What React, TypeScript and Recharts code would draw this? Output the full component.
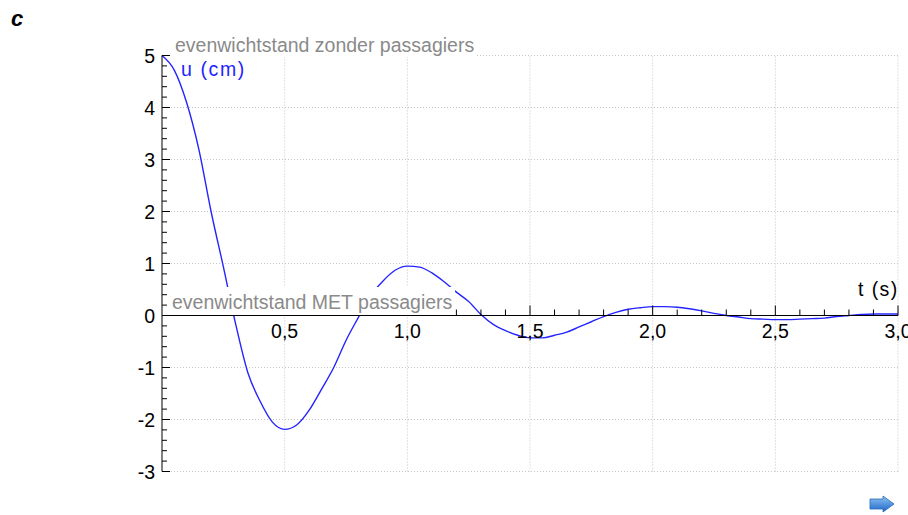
import { LineChart, Line, XAxis, YAxis, ReferenceLine } from "recharts";

// time (s) and displacement u (cm)
const T = [
  0, 0.05, 0.1, 0.15, 0.2, 0.25, 0.3, 0.35, 0.4, 0.45, 0.5, 0.55, 0.6, 0.65,
  0.7, 0.75, 0.8, 0.85, 0.9, 0.95, 1.0, 1.05, 1.1, 1.15, 1.2, 1.25, 1.3, 1.35,
  1.4, 1.45, 1.5, 1.55, 1.6, 1.65, 1.7, 1.75, 1.8, 1.85, 1.9, 1.95, 2.0, 2.05,
  2.1, 2.15, 2.2, 2.25, 2.3, 2.35, 2.4, 2.45, 2.5, 2.55, 2.6, 2.65, 2.7, 2.75,
  2.8, 2.85, 2.9, 2.95, 3.0,
];
const U = [
  5, 4.72, 4.1, 3.2, 2.0, 0.94, -0.16, -1.1, -1.65, -2.05, -2.19, -2.1, -1.82,
  -1.42, -1.0, -0.48, -0.04, 0.38, 0.66, 0.87, 0.95, 0.93, 0.82, 0.65, 0.45,
  0.27, 0.02, -0.17, -0.29, -0.38, -0.43, -0.43, -0.38, -0.32, -0.22, -0.12,
  -0.02, 0.06, 0.12, 0.15, 0.17, 0.17, 0.16, 0.13, 0.09, 0.04, 0.0, -0.03,
  -0.06, -0.07, -0.08, -0.08, -0.07, -0.06, -0.05, -0.02, 0.0, 0.02, 0.03,
  0.03, 0.03,
];

const X_TICKS = [
  0.1, 0.2, 0.3, 0.4, 0.5, 0.6, 0.7, 0.8, 0.9, 1.0, 1.1, 1.2, 1.3, 1.4, 1.5,
  1.6, 1.7, 1.8, 1.9, 2.0, 2.1, 2.2, 2.3, 2.4, 2.5, 2.6, 2.7, 2.8, 2.9, 3.0,
];
const Y_TICKS = [
  -3, -2.8, -2.6, -2.4, -2.2, -2, -1.8, -1.6, -1.4, -1.2, -1, -0.8, -0.6, -0.4,
  -0.2, 0, 0.2, 0.4, 0.6, 0.8, 1, 1.2, 1.4, 1.6, 1.8, 2, 2.2, 2.4, 2.6, 2.8, 3,
  3.2, 3.4, 3.6, 3.8, 4, 4.2, 4.4, 4.6, 4.8, 5,
];
const X_GRID = [0.5, 1.0, 1.5, 2.0, 2.5, 3.0];
const Y_GRID = [-3, -2, -1, 1, 2, 3, 4, 5];
const X_LABELS = [0.5, 1.0, 1.5, 2.0, 2.5, 3.0];
const Y_LABELS = [-3, -2, -1, 0, 1, 2, 3, 4, 5];

const data = T.map((t, i) => ({ t, u: U[i] }));

const W = 908;
const H = 515;
const TOP = 55.5;
const X_H = 1;
const BOTTOM = 42.5;
const LEFT = 162;
const RIGHT = 10;
const Y_MIN = -3;
const Y_MAX = 5;
// distance from plot bottom up to the u = 0 line
const ZERO_OFF = ((H - TOP - BOTTOM - X_H) * (0 - Y_MIN)) / (Y_MAX - Y_MIN);

const FONT = "'Liberation Sans', Arial, sans-serif";
const FS = 19.5;

const near = (a: number, b: number) => Math.abs(a - b) < 1e-6;

const XTick = ({ x, y, payload }: any) => {
  const v = payload.value;
  const y0 = y - ZERO_OFF;
  const major = X_LABELS.some((l) => near(l, v));
  return (
    <g>
      <line x1={x} x2={x} y1={y0} y2={y0 - (major ? 10 : 6)} stroke="#000" />
      {major && (
        <text x={x} y={y0 + 22} textAnchor="middle" fontSize={FS} fontFamily={FONT} fill="#000">
          {v.toFixed(1).replace(".", ",")}
        </text>
      )}
    </g>
  );
};

const YTick = ({ x, y, payload }: any) => {
  const v = payload.value;
  const major = Y_LABELS.some((l) => near(l, v));
  return (
    <g>
      <line x1={x} x2={x + (major ? 8 : 5)} y1={y} y2={y} stroke="#000" />
      {major && (
        <text x={x - 7} y={y + 7} textAnchor="end" fontSize={FS} fontFamily={FONT} fill="#000">
          {v}
        </text>
      )}
    </g>
  );
};

const Arrow = () => (
  <svg width={30} height={22} style={{ position: "absolute", left: 867, top: 493 }}>
    <defs>
      <linearGradient id="arr" x1="0" y1="0" x2="0" y2="1">
        <stop offset="0" stopColor="#8cc4f4" />
        <stop offset="1" stopColor="#1f66c8" />
      </linearGradient>
    </defs>
    <polygon
      points="3,6 16,6 16,3 27,11 16,19 16,16 3,16"
      fill="url(#arr)"
      stroke="#2a6ab8"
      strokeWidth={0.8}
    />
  </svg>
);

// labels with white backing, drawn above the plot
const Labels = () => (
  <svg
    width={W}
    height={H}
    style={{ position: "absolute", left: 0, top: 0, pointerEvents: "none" }}
  >
    <rect x={170} y={36} width={306} height={21} fill="#fff" />
    <rect x={168} y={287} width={287} height={28} fill="#fff" />
    <text x={175} y={52} fontSize={FS} fontFamily={FONT} fill="#8a8a8a">
      evenwichtstand zonder passagiers
    </text>
    <text x={181} y={76} fontSize={FS} fontFamily={FONT} fill="#2424ff" letterSpacing={1.6}>
      u (cm)
    </text>
    <text x={172} y={309} fontSize={FS} fontFamily={FONT} fill="#8a8a8a">
      evenwichtstand MET passagiers
    </text>
    <text x={858} y={296} fontSize={FS} fontFamily={FONT} fill="#000" letterSpacing={1.4}>
      t (s)
    </text>
  </svg>
);

export default function App() {
  return (
    <div
      style={{
        position: "absolute",
        left: 0,
        top: 0,
        width: W,
        height: H,
        background: "#fff",
        fontFamily: FONT,
      }}
    >
      <div
        style={{
          position: "absolute",
          left: 11,
          top: 6,
          fontSize: 22,
          fontWeight: "bold",
          fontStyle: "italic",
        }}
      >
        c
      </div>
      <LineChart
        width={W}
        height={H}
        data={data}
        margin={{ top: TOP, right: RIGHT, bottom: BOTTOM, left: 0 }}
      >
        {X_GRID.map((v) => (
          <ReferenceLine key={"gx" + v} x={v} stroke="#c4c4c4" strokeDasharray="1 2" />
        ))}
        {Y_GRID.map((v) => (
          <ReferenceLine key={"gy" + v} y={v} stroke="#c4c4c4" strokeDasharray="1 2" />
        ))}
        <Line
          type="monotone"
          dataKey="u"
          stroke="#2424ff"
          strokeWidth={1.4}
          dot={false}
          isAnimationActive={false}
        />
        <ReferenceLine y={0} stroke="#000" />
        <XAxis
          type="number"
          dataKey="t"
          domain={[0, 3]}
          ticks={X_TICKS}
          interval={0}
          height={X_H}
          tickSize={0}
          tickMargin={0}
          axisLine={false}
          tickLine={false}
          tick={<XTick />}
        />
        <YAxis
          type="number"
          domain={[Y_MIN, Y_MAX]}
          ticks={Y_TICKS}
          interval={0}
          width={LEFT}
          tickSize={0}
          tickMargin={0}
          axisLine={{ stroke: "#000" }}
          tickLine={false}
          tick={<YTick />}
        />
      </LineChart>
      <Labels />
      <Arrow />
    </div>
  );
}
